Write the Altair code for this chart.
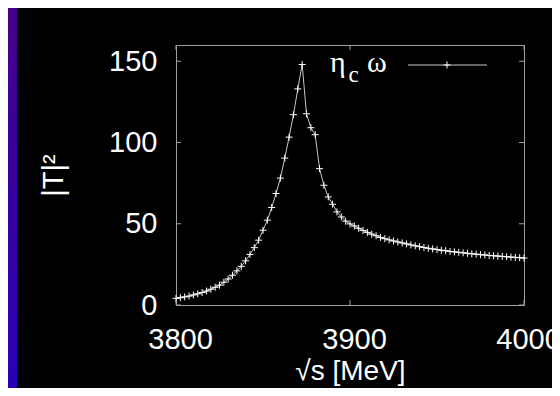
import altair as alt
import pandas as pd

# ---- data ----
sqrt_s = [3800 + 2.5 * i for i in range(81)]
t2 = [
    4.1, 4.5, 5.0, 5.5, 6.2, 6.9, 7.7, 8.6, 9.7, 10.9,
    12.2, 14.0, 16.0, 18.3, 21.0, 23.8, 27.2, 31.1, 35.3, 39.9,
    46.0, 52.2, 60.0, 68.6, 78.1, 90.4, 103.3, 117.1, 133.0, 148.0,
    117.7, 109.1, 104.8, 83.9, 73.7, 66.5, 62.0, 57.3, 54.2, 51.6,
    49.9, 48.6, 47.2, 45.9, 44.7, 43.6, 42.6, 41.6, 40.8, 40.1,
    39.4, 38.8, 38.2, 37.6, 37.0, 36.4, 35.9, 35.4, 34.9, 34.5,
    34.1, 33.7, 33.4, 33.0, 32.7, 32.4, 32.1, 31.8, 31.5, 31.3,
    31.0, 30.8, 30.5, 30.3, 30.1, 29.9, 29.7, 29.5, 29.3, 29.1,
    28.9,
]
x_ticks = [3800, 3900, 4000]
y_ticks = [0, 50, 100, 150]

W, H = 348, 260
PAD_L, PAD_T, PAD_R, PAD_B = 168, 37, 28, 83
FRAME = "#a0a0a0"
LINE = "#c8c8c8"
SANS = "Liberation Sans"
SERIF = "Liberation Serif"

df = pd.DataFrame({"s": sqrt_s, "t": t2})
xt = pd.DataFrame({"s": x_ticks})
yt = pd.DataFrame({"t": y_ticks})
one = pd.DataFrame({"k": [0]})

xscale = alt.Scale(domain=[3800, 4000], nice=False, zero=False)
yscale = alt.Scale(domain=[0, 160], nice=False)

xaxis = alt.Axis(values=x_ticks, format="d", title="√s [MeV]", grid=False,
                 domain=False, ticks=False, tickSize=0, labelPadding=20,
                 labelOffset=4, labelFlush=False, labelOverlap=False,
                 labelFont=SANS, labelFontSize=29, labelColor="white",
                 titleFont=SANS, titleFontSize=28, titleColor="white",
                 titleFontWeight="normal", titlePadding=3)
yaxis = alt.Axis(values=y_ticks, format="d", title="|T|²", grid=False,
                 domain=False, ticks=False, tickSize=0, labelPadding=19,
                 labelFlush=False, labelOverlap=False,
                 labelFont=SANS, labelFontSize=29, labelColor="white",
                 titleFont=SANS, titleFontSize=29, titleColor="white",
                 titleFontWeight="normal", titlePadding=40)

strip = alt.Chart(one).mark_rect(
    color=alt.LinearGradient(
        gradient="linear",
        stops=[alt.GradientStop(color="#45008a", offset=0),
               alt.GradientStop(color="#2a00b6", offset=1)],
        x1=0, x2=0, y1=0, y2=1),
    clip=False,
).encode(x=alt.value(-PAD_L), x2=alt.value(-PAD_L + 9),
         y=alt.value(-PAD_T), y2=alt.value(H + PAD_B))

line = alt.Chart(df).mark_line(color=LINE, strokeWidth=1).encode(
    x=alt.X("s:Q", scale=xscale, axis=xaxis),
    y=alt.Y("t:Q", scale=yscale, axis=yaxis),
)
pts = alt.Chart(df).mark_point(
    shape="M-1,0L1,0M0,-1L0,1", size=49, filled=False,
    stroke="white", strokeWidth=1, opacity=1,
).encode(x=alt.X("s:Q", scale=xscale), y=alt.Y("t:Q", scale=yscale))

tick_len = 5
xb = alt.Chart(xt).mark_rule(color=FRAME, strokeWidth=1).encode(
    x=alt.X("s:Q", scale=xscale), y=alt.value(H), y2=alt.value(H - tick_len))
xtp = alt.Chart(xt).mark_rule(color=FRAME, strokeWidth=1).encode(
    x=alt.X("s:Q", scale=xscale), y=alt.value(0), y2=alt.value(tick_len))
yl = alt.Chart(yt).mark_rule(color=FRAME, strokeWidth=1).encode(
    y=alt.Y("t:Q", scale=yscale), x=alt.value(0), x2=alt.value(tick_len))
yr = alt.Chart(yt).mark_rule(color=FRAME, strokeWidth=1).encode(
    y=alt.Y("t:Q", scale=yscale), x=alt.value(W), x2=alt.value(W - tick_len))

# legend: "η_c ω" with a sample line and one marker
leg_eta = alt.Chart(one).mark_text(text="η", font=SERIF, fontSize=30,
                                   color="white", align="left",
                                   baseline="alphabetic").encode(
    x=alt.value(154), y=alt.value(27))
leg_c = alt.Chart(one).mark_text(text="c", font=SERIF, fontSize=23,
                                 color="white", align="left",
                                 baseline="alphabetic").encode(
    x=alt.value(172.5), y=alt.value(37))
leg_om = alt.Chart(one).mark_text(text="ω", font=SERIF, fontSize=30,
                                  color="white", align="left",
                                  baseline="alphabetic").encode(
    x=alt.value(191), y=alt.value(27))
leg_line = alt.Chart(one).mark_rule(color=LINE, strokeWidth=1).encode(
    x=alt.value(232), x2=alt.value(311), y=alt.value(20))
leg_pt = alt.Chart(one).mark_point(
    shape="M-1,0L1,0M0,-1L0,1", size=49, filled=False,
    stroke="white", strokeWidth=1, opacity=1,
).encode(x=alt.value(271), y=alt.value(20))

chart = alt.layer(
    strip, xb, xtp, yl, yr, line, pts,
    leg_line, leg_pt, leg_eta, leg_c, leg_om,
).properties(
    width=W, height=H,
    autosize=alt.AutoSizeParams(type="none"),
    padding={"left": PAD_L, "top": PAD_T, "right": PAD_R, "bottom": PAD_B},
    background="black",
).configure_view(stroke=FRAME, strokeWidth=1)

chart.save("out.html", embed_options={"renderer": "svg", "actions": False})
